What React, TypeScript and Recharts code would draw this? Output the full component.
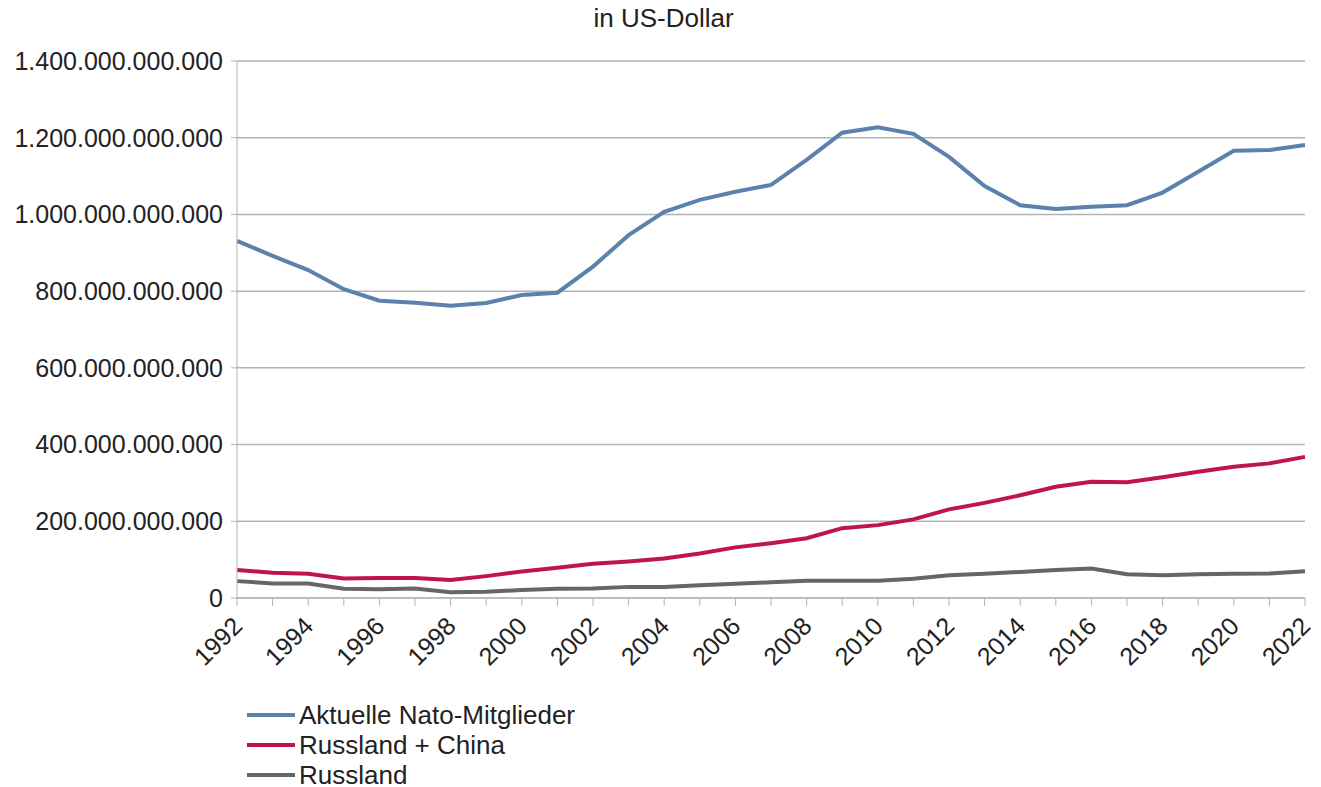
import { LineChart, Line, XAxis, YAxis, CartesianGrid, Legend } from "recharts";

const years = [
  "1992", "1993", "1994", "1995", "1996", "1997", "1998", "1999", "2000", "2001",
  "2002", "2003", "2004", "2005", "2006", "2007", "2008", "2009", "2010", "2011",
  "2012", "2013", "2014", "2015", "2016", "2017", "2018", "2019", "2020", "2021", "2022",
];

// Milliarden US-Dollar
const nato = [
  931, 892, 855, 805, 775, 770, 762, 769, 790, 796, 864, 946, 1007, 1038, 1059, 1077,
  1142, 1213, 1227, 1210, 1150, 1074, 1024, 1014, 1020, 1024, 1057, 1111, 1166, 1168, 1181,
];
const russlandChina = [
  73, 66, 63, 51, 52, 52, 47, 57, 69, 79, 89, 95, 103, 116, 132, 143, 156, 182, 190, 205,
  231, 248, 268, 290, 303, 302, 315, 329, 342, 351, 368,
];
const russland = [
  44, 38, 38, 24, 23, 25, 15, 16, 21, 24, 25, 29, 29, 33, 37, 41, 45, 45, 45, 50, 59, 63,
  68, 73, 77, 62, 59, 62, 63, 64, 70,
];

const yTicks = [0, 200e9, 400e9, 600e9, 800e9, 1000e9, 1200e9, 1400e9];

const series = [
  { key: "nato", name: "Aktuelle Nato-Mitglieder", color: "#5a82ad" },
  { key: "rc", name: "Russland + China", color: "#bf1450" },
  { key: "ru", name: "Russland", color: "#666666" },
];

const data = years.map((year, i) => ({
  year,
  nato: nato[i] * 1e9,
  rc: russlandChina[i] * 1e9,
  ru: russland[i] * 1e9,
}));

const FONT = "'Liberation Sans', Arial, sans-serif";
const GRID = "#b3b3b3";

function formatDots(v: number) {
  return Math.round(v)
    .toString()
    .replace(/\B(?=(\d{3})+(?!\d))/g, ".");
}

function YearTick(props: any) {
  const { x, y, payload } = props;
  if (Number(payload.value) % 2 !== 0) return <g />;
  const px = x - 6;
  const py = y + 7;
  return (
    <text
      x={px}
      y={py}
      dy="0.72em"
      textAnchor="end"
      transform={`rotate(-45, ${px}, ${py})`}
      fontSize={25}
      fontFamily={FONT}
      fill="#222"
    >
      {payload.value}
    </text>
  );
}

function LegendBox() {
  return (
    <div style={{ fontFamily: FONT, fontSize: 26, color: "#222" }}>
      {series.map((s) => (
        <div key={s.key} style={{ display: "flex", alignItems: "center", height: 30 }}>
          <svg width={52} height={30}>
            <line x1={2} y1={15} x2={50} y2={15} stroke={s.color} strokeWidth={4} />
          </svg>
          <span style={{ marginLeft: 2 }}>{s.name}</span>
        </div>
      ))}
    </div>
  );
}

export default function App() {
  return (
    <div style={{ position: "absolute", left: 0, top: 0, width: 1321, height: 787, background: "#fff" }}>
      <div
        style={{
          position: "absolute",
          left: 0,
          width: 1327,
          top: 3,
          textAlign: "center",
          fontFamily: FONT,
          fontSize: 26,
          color: "#222",
        }}
      >
        in US-Dollar
      </div>
      <LineChart width={1321} height={787} data={data} margin={{ top: 61, right: 16, bottom: 0, left: 0 }}>
        <CartesianGrid vertical={false} stroke={GRID} strokeWidth={1.5} />
        <XAxis
          dataKey="year"
          interval={0}
          height={189}
          tickSize={8}
          tickMargin={2}
          stroke={GRID}
          tickLine={{ stroke: GRID }}
          tick={YearTick}
        />
        <YAxis
          width={237}
          domain={[0, 1400e9]}
          ticks={yTicks}
          tickFormatter={formatDots}
          tickSize={6}
          tickMargin={8}
          stroke={GRID}
          tick={{ fontSize: 25, fontFamily: FONT, fill: "#222" }}
        />
        <YAxis yAxisId="right" orientation="right" width={0} tick={false} tickLine={false} stroke={GRID} />
        {series.map((s) => (
          <Line
            key={s.key}
            type="linear"
            dataKey={s.key}
            name={s.name}
            stroke={s.color}
            strokeWidth={4}
            dot={false}
            isAnimationActive={false}
          />
        ))}
        <Legend
          layout="vertical"
          verticalAlign="middle"
          align="center"
          content={() => <LegendBox />}
          wrapperStyle={{ left: 245, top: 700, width: 400 }}
        />
      </LineChart>
    </div>
  );
}
